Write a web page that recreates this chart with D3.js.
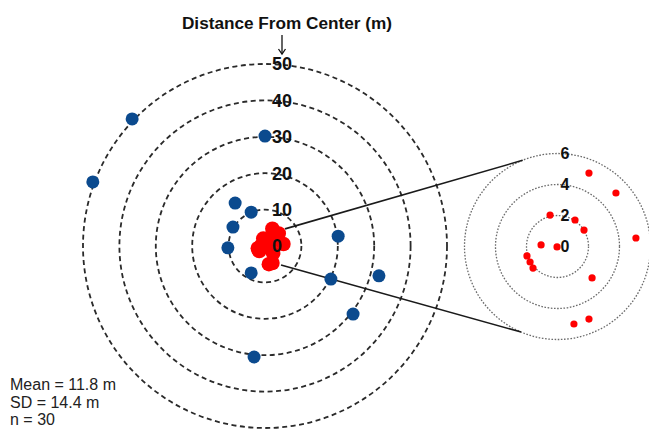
<!DOCTYPE html>
<html>
<head>
<meta charset="utf-8">
<script src="https://cdn.jsdelivr.net/npm/d3@7"></script>
<style>
  body { margin: 0; background: #fff; }
  svg { display: block; font-family: Arial, "Liberation Sans", sans-serif; }
</style>
</head>
<body>
<div id="chart"></div>
<script>
// rings (m)
const mainRings = [10, 20, 30, 40, 50];
const mainLabels = [0, 10, 20, 30, 40, 50];
const insetRings = [2, 4, 6];
const insetLabels = [0, 2, 4, 6];

// points beyond 6 m, x/y offsets in metres
const farX = [-36.5, -47.3, 0.0, -8.2, -3.8, -8.8, -10.2, 20.1, -3.8, 18.1, 31.3, 24.2, -3.0];
const farY = [34.9, 17.6, 30.2, 11.8, 9.3, 5.2, -0.5, 2.7, -7.4, -9.1, -8.2, -18.7, -30.5];

// points within 6 m
const nearX = [2.03, 3.77, -0.48, 1.13, 1.71, 5.06, -1.06, -0.03, -1.97, -1.77, -1.58, 2.23, 1.06, 2.03];
const nearY = [4.74, 3.45, 2.03, 1.71, 1.06, 0.55, 0.10, -0.03, -0.61, -1.00, -1.39, -2.03, -5.00, -4.68];

// zoom connector: point on main plot (m) -> point on inset ring (m)
const linkMain = [[5.5, 4.7], [4.4, -5.2]];
const linkInset = [[-2.25, 5.56], [-2.35, -5.52]];

const stats = ['Mean = 11.8 m', 'SD = 14.4 m', 'n = 30'];
const title = 'Distance From Center (m)';

const width = 649, height = 431;
const svg = d3.select('#chart').append('svg')
    .attr('width', width)
    .attr('height', height);

// main plot scales
const mc = { x: 265, y: 246, r: 182 };
const mx = d3.scaleLinear().domain([-50, 50]).range([mc.x - mc.r, mc.x + mc.r]);
const my = d3.scaleLinear().domain([-50, 50]).range([mc.y + mc.r, mc.y - mc.r]);

// inset scales
const ic = { x: 557.5, y: 246.5, r: 93 };
const ix = d3.scaleLinear().domain([-6, 6]).range([ic.x - ic.r, ic.x + ic.r]);
const iy = d3.scaleLinear().domain([-6, 6]).range([ic.y + ic.r, ic.y - ic.r]);

// title + arrow
const labelDx = 7;
svg.append('text')
    .attr('x', 287)
    .attr('y', 29)
    .attr('text-anchor', 'middle')
    .style('font-size', '17.2px')
    .style('font-weight', 'bold')
    .attr('fill', '#111')
    .text(title);

const arrowX = mx(0) + labelDx + 10;
const arrowTop = 35, arrowBot = my(50) - 10;
svg.append('line')
    .attr('x1', arrowX).attr('x2', arrowX)
    .attr('y1', arrowTop).attr('y2', arrowBot)
    .attr('stroke', '#111').attr('stroke-width', 1.3);
svg.append('path')
    .attr('d', `M${arrowX - 3.5},${arrowBot - 5} L${arrowX},${arrowBot} L${arrowX + 3.5},${arrowBot - 5}`)
    .attr('fill', 'none').attr('stroke', '#111').attr('stroke-width', 1.3);

// main rings
svg.append('g').selectAll('circle')
    .data(mainRings)
    .enter()
    .append('circle')
    .attr('cx', mx(0))
    .attr('cy', my(0))
    .attr('r', d => mx(d) - mx(0))
    .attr('fill', 'none')
    .attr('stroke', '#2a2a2a')
    .attr('stroke-width', 1.8)
    .attr('stroke-dasharray', '5,3.5');

// inset rings
svg.append('g').selectAll('circle')
    .data(insetRings)
    .enter()
    .append('circle')
    .attr('cx', ix(0))
    .attr('cy', iy(0))
    .attr('r', d => ix(d) - ix(0))
    .attr('fill', 'none')
    .attr('stroke', '#6a6a6a')
    .attr('stroke-width', 1.3)
    .attr('stroke-dasharray', '1.6,1.6');

// connectors
svg.append('g').selectAll('line')
    .data(d3.range(linkMain.length))
    .enter()
    .append('line')
    .attr('x1', i => mx(linkMain[i][0]))
    .attr('y1', i => my(linkMain[i][1]))
    .attr('x2', i => ix(linkInset[i][0]))
    .attr('y2', i => iy(linkInset[i][1]))
    .attr('stroke', '#1a1a1a')
    .attr('stroke-width', 1.6);

// far points (blue)
svg.append('g').selectAll('circle')
    .data(d3.range(farX.length))
    .enter()
    .append('circle')
    .attr('cx', i => mx(farX[i]))
    .attr('cy', i => my(farY[i]))
    .attr('r', 6.5)
    .attr('fill', '#0b4a8e');

// near points on main plot (red blob)
svg.append('g').selectAll('circle')
    .data(d3.range(nearX.length))
    .enter()
    .append('circle')
    .attr('cx', i => mx(nearX[i]))
    .attr('cy', i => my(nearY[i]))
    .attr('r', 7.3)
    .attr('fill', '#ff0000');

// near points in inset
svg.append('g').selectAll('circle')
    .data(d3.range(nearX.length))
    .enter()
    .append('circle')
    .attr('cx', i => ix(nearX[i]))
    .attr('cy', i => iy(nearY[i]))
    .attr('r', 3.6)
    .attr('fill', '#ff0000');

// ring labels
svg.append('g').selectAll('text')
    .data(mainLabels)
    .enter()
    .append('text')
    .attr('x', mx(0) + labelDx)
    .attr('y', d => my(d))
    .attr('dy', '0.36em')
    .style('font-size', '18px')
    .style('font-weight', 'bold')
    .attr('fill', '#111')
    .text(d => d);

svg.append('g').selectAll('text')
    .data(insetLabels)
    .enter()
    .append('text')
    .attr('x', ix(0) + 3)
    .attr('y', d => iy(d))
    .attr('dy', '0.36em')
    .style('font-size', '16px')
    .style('font-weight', 'bold')
    .attr('fill', '#111')
    .text(d => d);

// stats
svg.append('g').selectAll('text')
    .data(stats)
    .enter()
    .append('text')
    .attr('x', 10)
    .attr('y', (d, i) => 390 + i * 17.5)
    .style('font-size', '16px')
    .attr('fill', '#222')
    .text(d => d);
</script>
</body>
</html>
